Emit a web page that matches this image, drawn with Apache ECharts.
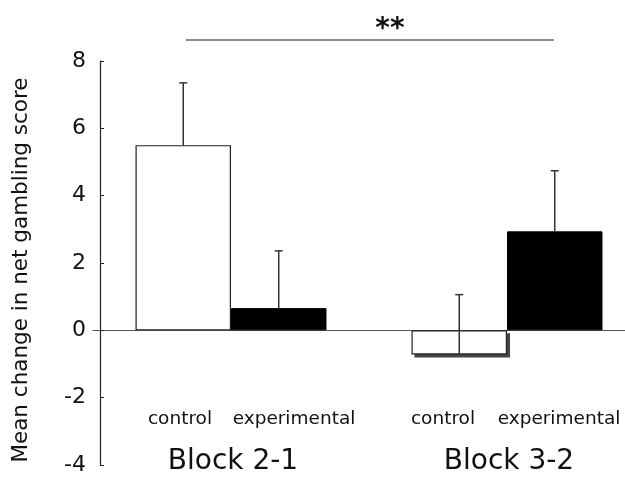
<!DOCTYPE html>
<html>
<head>
<meta charset="utf-8">
<script src="https://cdn.jsdelivr.net/npm/echarts@6/dist/echarts.min.js"></script>
<style>html,body{margin:0;padding:0;background:#fff}#c{width:625px;height:481px}</style>
</head>
<body>
<div id="c"></div>
<script>
const blocks = ['Block 2-1', 'Block 3-2'];
const groupLabels = ['control', 'experimental'];
const controlMean = [5.5, -0.72];
const controlErr = [1.85, 1.78];
const experimentalMean = [0.66, 2.94];
const experimentalErr = [1.7, 1.8];
const yTicks = [-4, -2, 0, 2, 4, 6, 8];
const significance = '**';

const FONT = 'DejaVu Sans';
const BAR_FRAC = 0.346;

function errSeries(means, errs, sign, color) {
  return {
    type: 'custom',
    xAxisIndex: 0,
    z: 5,
    data: means.map((m, i) => [i, m, errs[i]]),
    renderItem: function (params, api) {
      const ci = api.value(0), v = api.value(1), e = api.value(2);
      const band = api.size([1, 0])[0];
      const x = api.coord([ci, 0])[0] + sign * band * BAR_FRAC / 2;
      const y0 = api.coord([ci, v])[1];
      const y1 = api.coord([ci, v + e])[1];
      const st = { stroke: color, lineWidth: 1.5 };
      return {
        type: 'group',
        children: [
          { type: 'line', shape: { x1: x, y1: y0, x2: x, y2: y1 }, style: st },
          { type: 'line', shape: { x1: x - 4, y1: y1, x2: x + 4, y2: y1 }, style: st }
        ]
      };
    }
  };
}

// drop shadow drawn behind the negative control bar (Block 3-2)
const shadowSeries = {
  type: 'custom',
  xAxisIndex: 0,
  z: 1,
  silent: true,
  data: controlMean.map((m, i) => [i, m]).filter(d => d[1] < 0),
  renderItem: function (params, api) {
    const ci = api.value(0), v = api.value(1);
    const band = api.size([1, 0])[0];
    const cx = api.coord([ci, 0])[0];
    const y0 = api.coord([ci, 0])[1];
    const y1 = api.coord([ci, v])[1];
    const w = band * BAR_FRAC;
    return {
      type: 'rect',
      shape: { x: cx - w + 3, y: y0 + 3, width: w, height: y1 - y0 },
      style: { fill: '#444' }
    };
  }
};

const chart = echarts.init(document.getElementById('c'));
const subX = [180, 294, 443, 559];
const graphics = [];
blocks.forEach((b, bi) => {
  groupLabels.forEach((g, gi) => {
    graphics.push({
      type: 'text', x: subX[bi * 2 + gi], y: 419,
      style: { text: g, font: '18.5px "' + FONT + '"', fill: '#111', textAlign: 'center', textVerticalAlign: 'middle' }
    });
  });
});
graphics.push({ type: 'line', shape: { x1: 186, y1: 40, x2: 554, y2: 40 }, style: { stroke: '#666', lineWidth: 1.5 } });
graphics.push({ type: 'text', x: 390, y: 30, style: { text: significance, font: 'bold 28px "' + FONT + '"', fill: '#111', textAlign: 'center', textVerticalAlign: 'middle' } });

chart.setOption({
  animation: false,
  backgroundColor: '#fff',
  grid: { left: 93, top: 61, width: 552, bottom: 16, containLabel: false, outerBoundsMode: 'none' },
  xAxis: [
    {
      type: 'category', data: blocks,
      axisLine: { onZero: true, lineStyle: { color: '#555', width: 1.2 } },
      axisTick: { show: false }, axisLabel: { show: false }, splitLine: { show: false }
    },
    {
      type: 'category', data: blocks, position: 'bottom',
      axisLine: { show: false, onZero: false }, axisTick: { show: false }, splitLine: { show: false },
      axisLabel: { fontFamily: FONT, fontSize: 28, color: '#111', margin: -3, verticalAlign: 'middle', padding: [0, 0, 0, 4] }
    }
  ],
  yAxis: {
    type: 'value', min: yTicks[0], max: yTicks[yTicks.length - 1], interval: 2, offset: -7,
    axisLine: { show: true, lineStyle: { color: '#222', width: 1.2 } },
    axisTick: { show: true, inside: true, length: 4, lineStyle: { color: '#222' } },
    splitLine: { show: false },
    axisLabel: { fontFamily: FONT, fontSize: 22, color: '#111', margin: 14 },
    name: 'Mean change in net gambling score',
    nameLocation: 'middle', nameGap: 68,
    nameTextStyle: { fontFamily: FONT, fontSize: 21.5, color: '#111', padding: [0, 14, 0, 0] }
  },
  series: [
    {
      type: 'bar', name: groupLabels[0], data: controlMean, z: 2,
      barWidth: (BAR_FRAC * 100) + '%', barGap: '0%',
      itemStyle: { color: '#fff', borderColor: '#222', borderWidth: 1.2 }
    },
    {
      type: 'bar', name: groupLabels[1], data: experimentalMean, z: 2,
      barWidth: (BAR_FRAC * 100) + '%', barGap: '0%',
      itemStyle: { color: '#000', borderColor: '#000', borderWidth: 1 }
    },
    shadowSeries,
    errSeries(controlMean, controlErr, -1, '#333'),
    errSeries(experimentalMean, experimentalErr, 1, '#333')
  ],
  graphic: graphics
});
</script>
</body>
</html>
